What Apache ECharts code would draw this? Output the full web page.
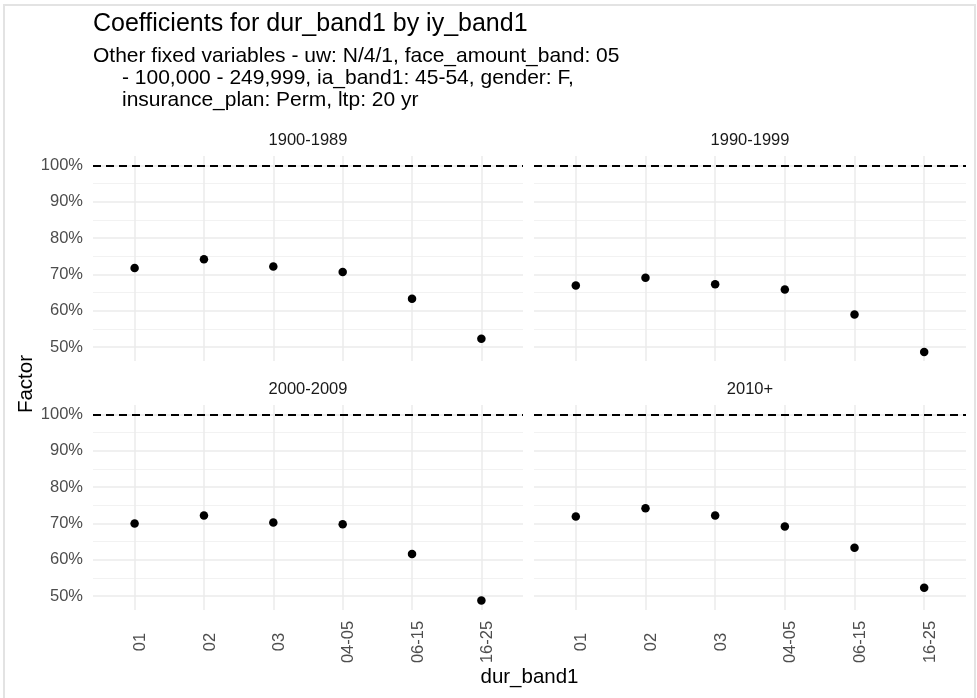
<!DOCTYPE html>
<html>
<head>
<meta charset="utf-8">
<script src="https://cdn.jsdelivr.net/npm/echarts@6/dist/echarts.min.js"></script>
<style>
html,body{margin:0;padding:0;background:#fff;}
#chart{width:977px;height:698px;}
</style>
</head>
<body>
<div id="chart"></div>
<script>
// ---- data ----
const categories = ['01', '02', '03', '04-05', '06-15', '16-25'];
const panels = ['1900-1989', '1990-1999', '2000-2009', '2010+'];
const vals1900 = [0.718, 0.742, 0.722, 0.707, 0.633, 0.523];
const vals1990 = [0.670, 0.691, 0.673, 0.659, 0.590, 0.487];
const vals2000 = [0.700, 0.722, 0.703, 0.698, 0.616, 0.488];
const vals2010 = [0.719, 0.742, 0.722, 0.692, 0.633, 0.523];
const yMajorTicks = [0.5, 0.6, 0.7, 0.8, 0.9, 1.0];
const yMinorTicks = [0.55, 0.65, 0.75, 0.85, 0.95];
const refLine = 1.0;
const titleText = 'Coefficients for dur_band1 by iy_band1';
const subtitleLines = [
  'Other fixed variables - uw: N/4/1, face_amount_band: 05',
  '- 100,000 - 249,999, ia_band1: 45-54, gender: F,',
  'insurance_plan: Perm, ltp: 20 yr'
];
const xTitle = 'dur_band1';
const yTitle = 'Factor';

// ---- layout ----
const FONT = 'Liberation Sans, Arial, sans-serif';
const allVals = [vals1900, vals1990, vals2000, vals2010];
const xTicks = categories.map((c, i) => i + 1);
const gridBoxes = [
  {left: 93, top: 156, width: 430, height: 205},
  {left: 534, top: 156, width: 432, height: 205},
  {left: 93, top: 405, width: 430, height: 205},
  {left: 534, top: 405, width: 432, height: 205}
];
const Y_MIN = 0.462, Y_MAX = 1.026;
const pct = v => Math.round(v * 100) + '%';

const grid = gridBoxes.map(g => Object.assign({containLabel: false}, g));
const xAxis = gridBoxes.map((g, i) => ({
  gridIndex: i, type: 'value', min: 0.4, max: 6.6,
  axisLine: {show: false},
  axisTick: {show: false, customValues: xTicks},
  axisLabel: {
    show: i >= 2, customValues: xTicks,
    formatter: v => categories[Math.round(v) - 1] || '',
    rotate: 90, align: 'center', verticalAlign: 'top', lineHeight: 12,
    margin: 32,
    fontSize: 16.5, color: '#4d4d4d', fontFamily: FONT
  },
  splitLine: {show: true, customValues: xTicks, lineStyle: {color: '#ebebeb', width: 1.5}}
}));
const yAxis = [];
gridBoxes.forEach((g, i) => {
  yAxis.push({
    gridIndex: i, type: 'value', min: Y_MIN, max: Y_MAX,
    axisLine: {show: false},
    axisTick: {show: false, customValues: yMajorTicks},
    axisLabel: {
      show: i % 2 === 0, customValues: yMajorTicks, formatter: pct,
      margin: 10, fontSize: 16.5, color: '#4d4d4d', fontFamily: FONT
    },
    splitLine: {show: true, customValues: yMajorTicks, lineStyle: {color: '#ebebeb', width: 1.5}}
  });
});
gridBoxes.forEach((g, i) => {
  yAxis.push({
    gridIndex: i, type: 'value', min: Y_MIN, max: Y_MAX,
    axisLine: {show: false},
    axisTick: {show: false, customValues: yMinorTicks},
    axisLabel: {show: false, customValues: yMinorTicks},
    splitLine: {show: true, customValues: yMinorTicks, lineStyle: {color: '#efefef', width: 0.8}}
  });
});

const series = allVals.map((vals, i) => ({
  type: 'scatter', xAxisIndex: i, yAxisIndex: i, z: 3,
  symbol: 'circle', symbolSize: 8.5,
  itemStyle: {color: '#000', opacity: 1},
  data: vals.map((v, j) => [j + 1, v]),
  markLine: {
    silent: true, symbol: ['none', 'none'], label: {show: false},
    lineStyle: {type: [8, 5], color: '#000', width: 2, opacity: 1},
    data: [{yAxis: refLine}]
  }
}));

const graphic = [
  {type: 'rect', shape: {x: 4, y: 5, width: 971, height: 700}, style: {fill: 'none', stroke: '#e3e3e3', lineWidth: 2}, silent: true},
  {type: 'text', x: 93, y: 24.5, style: {text: titleText, font: '25px ' + FONT, fill: '#000', verticalAlign: 'middle'}},
  {type: 'text', x: 93, y: 56, style: {text: subtitleLines[0], font: '21px ' + FONT, fill: '#000', verticalAlign: 'middle'}},
  {type: 'text', x: 122, y: 78.6, style: {text: subtitleLines[1], font: '21px ' + FONT, fill: '#000', verticalAlign: 'middle'}},
  {type: 'text', x: 122, y: 100, style: {text: subtitleLines[2], font: '21px ' + FONT, fill: '#000', verticalAlign: 'middle'}},
  {type: 'text', x: 26, y: 384, rotation: Math.PI / 2, style: {text: yTitle, font: '20.5px ' + FONT, fill: '#000', align: 'center', verticalAlign: 'middle'}},
  {type: 'text', x: 529.5, y: 677, style: {text: xTitle, font: '20.5px ' + FONT, fill: '#000', align: 'center', verticalAlign: 'middle'}}
];
gridBoxes.forEach((g, i) => {
  graphic.push({type: 'text', x: g.left + g.width / 2, y: g.top - 15.5,
    style: {text: panels[i], font: '16.5px ' + FONT, fill: '#1a1a1a', align: 'center', verticalAlign: 'middle'}});
});

const chart = echarts.init(document.getElementById('chart'), null, {renderer: 'canvas'});
chart.setOption({
  animation: false,
  backgroundColor: '#fff',
  textStyle: {fontFamily: FONT},
  grid, xAxis, yAxis, series, graphic
});
</script>
</body>
</html>
